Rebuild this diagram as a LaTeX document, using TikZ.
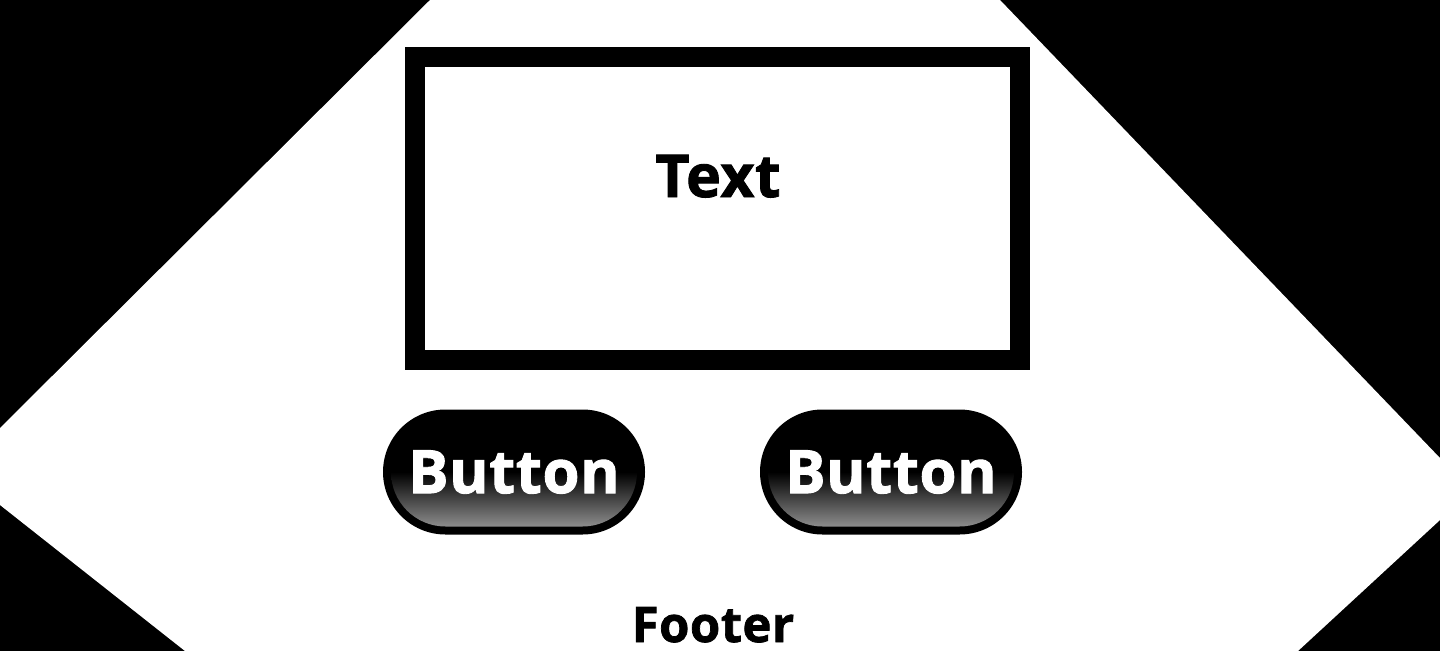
\documentclass[tikz,border=0pt]{standalone}
\usepackage{fontspec}
\setmainfont{Open Sans}[BoldFeatures={FakeBold=1.5,LetterSpace=1}]
\usetikzlibrary{shapes.misc}
\tikzset{
  btnouter/.style={rounded rectangle,fill=black,minimum width=262pt,minimum height=125pt,inner sep=0pt},
  btninner/.style={rounded rectangle,top color=black,bottom color=black!45,middle color=black,
    minimum width=246pt,minimum height=109pt,inner sep=0pt,text=white,
    font=\fontsize{60}{70}\selectfont\bfseries},
  label/.style={anchor=base,inner sep=0pt,font=\bfseries}
}
\begin{document}
\begin{tikzpicture}[x=1pt,y=-1pt,line join=miter]
\useasboundingbox (0,0) rectangle (1440,651);
% background
\fill[black] (0,0) rectangle (1440,651);
\fill[white] (430,0)--(1000,0)--(1440,458)--(1440,520)--(1298,651)
  --(185,651)--(0,505)--(0,428)--cycle;
% text box
\draw[line width=20pt] (415,57) rectangle (1020,360);
\node[label,font=\fontsize{59}{70}\selectfont\bfseries] (txt) at (718,197) {Text};
% buttons
\node[btnouter] (b1o) at (514,472) {};
\node[btninner] (b1) at (b1o) {Button};
\node[btnouter] (b2o) at (891,472) {};
\node[btninner] (b2) at (b2o) {Button};
% footer
\node[label,font=\fontsize{49}{60}\selectfont\bfseries] (foot) at (713,642) {Footer};
\end{tikzpicture}
\end{document}
